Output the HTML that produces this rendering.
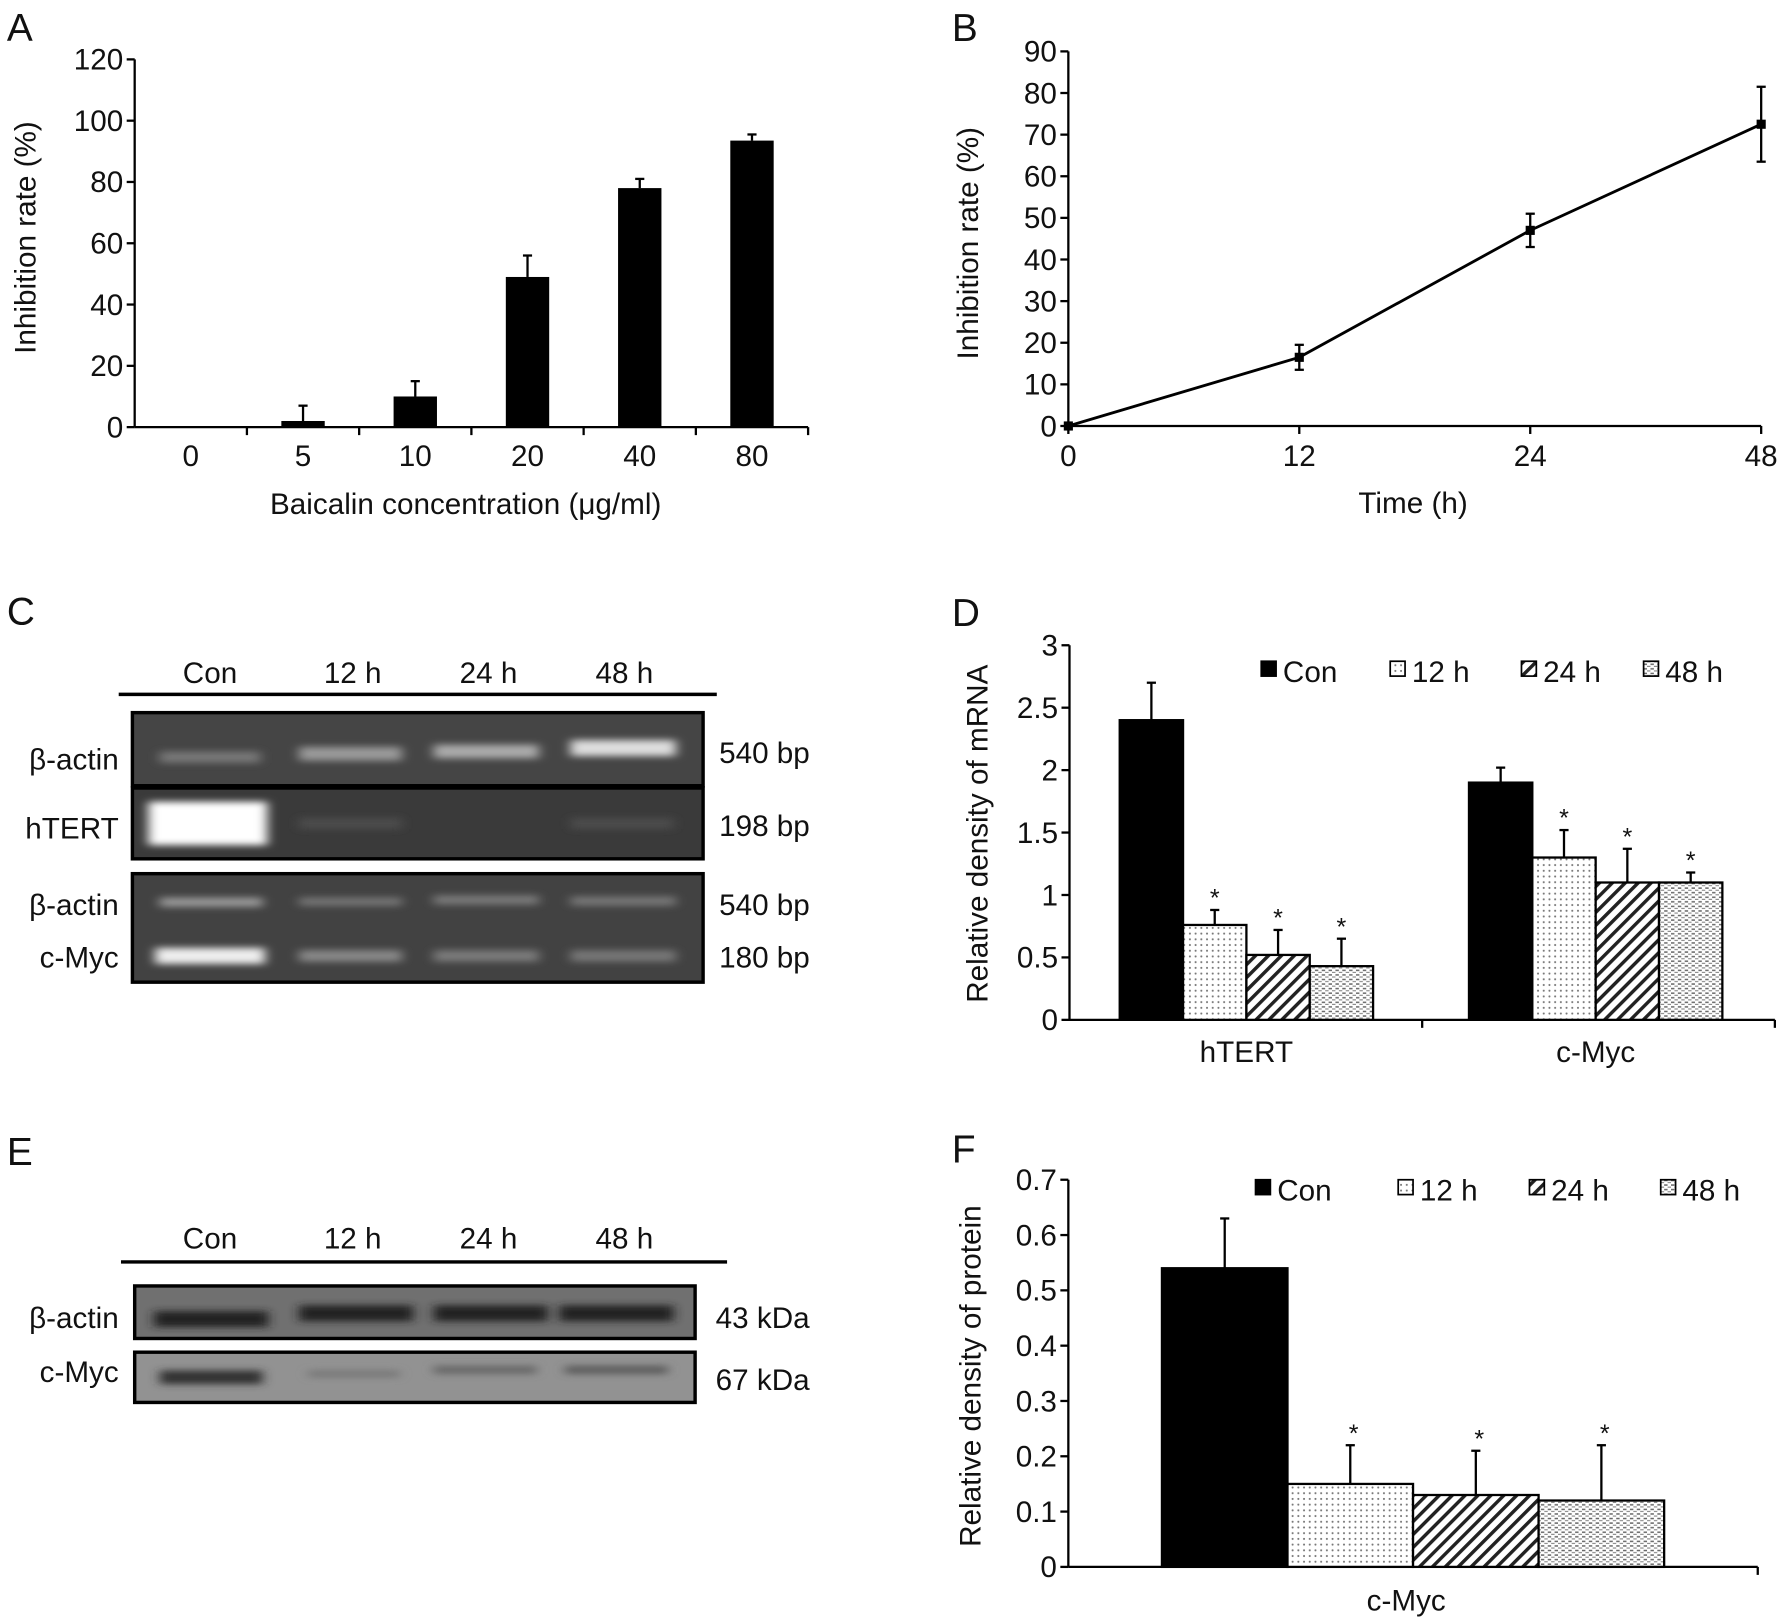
<!DOCTYPE html>
<html><head><meta charset="utf-8"><style>
html,body{margin:0;padding:0;background:#fff}
svg{display:block}
text{font-family:"Liberation Sans",sans-serif;fill:#111}
</style></head><body>
<svg id="fig" width="1784" height="1624" viewBox="0 0 1563 1422" preserveAspectRatio="none" xmlns="http://www.w3.org/2000/svg">
<defs>
<pattern id="p12" width="5" height="5" patternUnits="userSpaceOnUse"><rect width="5" height="5" fill="#fff"/><circle cx="2.5" cy="2.5" r="0.9" fill="#777"/></pattern>
<pattern id="p24" width="8" height="8" patternUnits="userSpaceOnUse" patternTransform="rotate(45)"><rect width="8" height="8" fill="#fff"/><rect width="3" height="8" fill="#222"/></pattern>
<pattern id="p48" width="6" height="4" patternUnits="userSpaceOnUse"><rect width="6" height="4" fill="#fff"/><rect x="0" y="1" width="3" height="1.3" fill="#666"/><rect x="3" y="3" width="3" height="1" fill="#888"/></pattern>
<filter id="blur" x="-20%" y="-100%" width="140%" height="300%"><feGaussianBlur stdDeviation="5 3"/></filter>
</defs>
<g id="root"></g>
<!-- Gel panel C -->
<g>
<text x="6" y="547" font-size="34">C</text>
<text x="184" y="598" font-size="26" text-anchor="middle">Con</text>
<text x="309" y="598" font-size="26" text-anchor="middle">12 h</text>
<text x="428" y="598" font-size="26" text-anchor="middle">24 h</text>
<text x="547" y="598" font-size="26" text-anchor="middle">48 h</text>
<line x1="104" y1="608" x2="628" y2="608" stroke="#000" stroke-width="3"/>
<rect x="116" y="624" width="500" height="64" fill="#454545" stroke="#000" stroke-width="3"/>
<rect x="116" y="690" width="500" height="62" fill="#3a3a3a" stroke="#000" stroke-width="3"/>
<rect x="116" y="765" width="500" height="95" fill="#424242" stroke="#000" stroke-width="3"/>
<g filter="url(#blur)">
<rect x="140" y="658" width="88" height="10" fill="#777"/><rect x="262" y="654" width="90" height="12" fill="#999"/><rect x="380" y="652" width="92" height="12" fill="#aaa"/><rect x="500" y="648" width="92" height="14" fill="#ddd"/>
<rect x="130" y="702" width="104" height="38" fill="#fff"/><rect x="262" y="716" width="90" height="10" fill="#4c4c4c"/><rect x="500" y="716" width="90" height="10" fill="#4c4c4c"/>
<rect x="140" y="786" width="90" height="8" fill="#999"/><rect x="262" y="786" width="90" height="7" fill="#777"/><rect x="380" y="784" width="92" height="8" fill="#7a7a7a"/><rect x="500" y="785" width="92" height="8" fill="#777"/>
<rect x="136" y="830" width="96" height="14" fill="#eee"/><rect x="262" y="832" width="90" height="10" fill="#888"/><rect x="380" y="832" width="92" height="10" fill="#7a7a7a"/><rect x="500" y="832" width="92" height="10" fill="#777"/>
</g>
<text x="104" y="674" font-size="26" text-anchor="end">β-actin</text>
<text x="104" y="734" font-size="26" text-anchor="end">hTERT</text>
<text x="104" y="801" font-size="26" text-anchor="end">β-actin</text>
<text x="104" y="847" font-size="26" text-anchor="end">c-Myc</text>
<text x="630" y="668" font-size="26">540 bp</text>
<text x="630" y="732" font-size="26">198 bp</text>
<text x="630" y="801" font-size="26">540 bp</text>
<text x="630" y="847" font-size="26">180 bp</text>
</g>
<!-- Blot panel E -->
<g>
<text x="6" y="1020" font-size="34">E</text>
<text x="184" y="1093" font-size="26" text-anchor="middle">Con</text>
<text x="309" y="1093" font-size="26" text-anchor="middle">12 h</text>
<text x="428" y="1093" font-size="26" text-anchor="middle">24 h</text>
<text x="547" y="1093" font-size="26" text-anchor="middle">48 h</text>
<line x1="106" y1="1105" x2="637" y2="1105" stroke="#000" stroke-width="3"/>
<rect x="118" y="1126" width="491" height="46" fill="#707070" stroke="#000" stroke-width="3"/>
<rect x="118" y="1184" width="491" height="44" fill="#929292" stroke="#000" stroke-width="3"/>
<g filter="url(#blur)">
<rect x="135" y="1148" width="100" height="14" fill="#222"/><rect x="262" y="1143" width="100" height="14" fill="#222"/><rect x="380" y="1143" width="100" height="14" fill="#222"/><rect x="490" y="1143" width="100" height="14" fill="#222"/>
<rect x="140" y="1200" width="90" height="12" fill="#333"/><rect x="270" y="1200" width="80" height="6" fill="#777"/><rect x="380" y="1196" width="90" height="7" fill="#666"/><rect x="495" y="1196" width="90" height="7" fill="#5a5a5a"/>
</g>
<text x="104" y="1163" font-size="26" text-anchor="end">β-actin</text>
<text x="104" y="1210" font-size="26" text-anchor="end">c-Myc</text>
<text x="627" y="1163" font-size="26">43 kDa</text>
<text x="627" y="1217" font-size="26">67 kDa</text>
</g>
</svg>
<script>
// Panel A data
const aCategories = ["0","5","10","20","40","80"];
const aValues = [0, 2, 10, 49, 78, 93.5];
const aErrors = [0, 5, 5, 7, 3, 2];
const aTicks = [0,20,40,60,80,100,120];
// Panel B data
const bTimes = ["0","12","24","48"];
const bValues = [0, 16.5, 47, 72.5];
const bErrors = [0, 3, 4, 9];
const bTicks = [0,10,20,30,40,50,60,70,80,90];
// Panel D data
const dGroups = ["hTERT","c-Myc"];
const dSeries = ["Con","12 h","24 h","48 h"];
const dHtert = [2.4, 0.76, 0.52, 0.43];
const dHtertErr = [0.3, 0.12, 0.2, 0.22];
const dCmyc = [1.9, 1.3, 1.1, 1.1];
const dCmycErr = [0.12, 0.22, 0.27, 0.08];
const dSig = [false, true, true, true];
const dTicks = ["0","0.5","1","1.5","2","2.5","3"];
// Panel F data
const fValues = [0.54, 0.15, 0.13, 0.12];
const fErrors = [0.09, 0.07, 0.08, 0.1];
const fSig = [false, true, true, true];
const fTicks = ["0","0.1","0.2","0.3","0.4","0.5","0.6","0.7"];

const NS="http://www.w3.org/2000/svg";
const root=document.getElementById('root');
function mk(tag,attrs,parent,txt){const e=document.createElementNS(NS,tag);for(const k in attrs)e.setAttribute(k,attrs[k]);if(txt!==undefined)e.textContent=txt;(parent||root).appendChild(e);return e;}
const fills=["#000","url(#p12)","url(#p24)","url(#p48)"];

function axisY(g,x,y0,y1,ticks,max,fs){
  mk('line',{x1:x,y1:y0,x2:x,y2:y1,stroke:'#000','stroke-width':2},g);
  ticks.forEach(t=>{const v=parseFloat(t);const y=y0-(y0-y1)*v/max;
    mk('line',{x1:x-7,y1:y,x2:x,y2:y,stroke:'#000','stroke-width':2},g);
    const tx=mk('text',{x:x-10,y:y+9,'font-size':fs,'text-anchor':'end'},g,String(t));
    
    });
}
function errBar(g,x,y,yTop){mk('line',{x1:x,y1:y,x2:x,y2:yTop,stroke:'#000','stroke-width':2},g);mk('line',{x1:x-4,y1:yTop,x2:x+4,y2:yTop,stroke:'#000','stroke-width':2},g);}
function legend(g,xs,y){dSeries.forEach((s,i)=>{const r=mk('rect',{x:xs[i],y:y-9,width:13,height:13,fill:fills[i],stroke:'#000','stroke-width':1.5},g);
  
  
  const t=mk('text',{x:xs[i]+19,y:y+9,'font-size':26},g,s);
  
  });}

// ---- Panel A
(function(){
  const g=mk('g',{});
  mk('text',{x:6,y:36,'font-size':34},g,'A');
  const X0=118,X1=708,Y0=374,Y1=52,max=120;
  axisY(g,X0,Y0,Y1,aTicks,max,26);
  mk('line',{x1:X0,y1:Y0,x2:X1,y2:Y0,stroke:'#000','stroke-width':2},g);
  const step=(X1-X0)/aCategories.length;
  const ys=v=>Y0-(Y0-Y1)*v/max;
  aCategories.forEach((c,i)=>{const cx=X0+step*(i+0.5);
    mk('line',{x1:X0+step*(i+1),y1:Y0,x2:X0+step*(i+1),y2:Y0+7,stroke:'#000','stroke-width':2},g);
    if(aErrors[i]>0) errBar(g,cx,ys(aValues[i]),ys(aValues[i]+aErrors[i]));
    const b=mk('rect',{x:cx-19,y:ys(aValues[i]),width:38,height:Y0-ys(aValues[i]),fill:'#000'},g);
    
    
    mk('text',{x:cx,y:408,'font-size':26,'text-anchor':'middle'},g,c);});
  mk('text',{x:408,y:450,'font-size':26,'text-anchor':'middle'},g,'Baicalin concentration (μg/ml)');
  mk('text',{x:0,y:0,'font-size':26,'text-anchor':'middle',transform:'translate(31,208) rotate(-90)'},g,'Inhibition rate (%)');
})();

// ---- Panel B
(function(){
  const g=mk('g',{});
  mk('text',{x:834,y:36,'font-size':34},g,'B');
  const X0=936,X1=1543,Y0=373,Y1=45,max=90;
  axisY(g,X0,Y0,Y1,bTicks,max,26);
  mk('line',{x1:X0,y1:Y0,x2:X1,y2:Y0,stroke:'#000','stroke-width':2},g);
  const xs=i=>X0+(X1-X0)*i/(bTimes.length-1);
  const ys=v=>Y0-(Y0-Y1)*v/max;
  let d='';
  bTimes.forEach((t,i)=>{mk('line',{x1:xs(i),y1:Y0,x2:xs(i),y2:Y0+7,stroke:'#000','stroke-width':2},g);
    mk('text',{x:xs(i),y:408,'font-size':26,'text-anchor':'middle'},g,t);
    d+=(i?'L':'M')+xs(i)+','+ys(bValues[i]);});
  const p=mk('path',{d:d,fill:'none',stroke:'#000','stroke-width':2.5},g);
  
  
  bTimes.forEach((t,i)=>{if(bErrors[i]>0){const x=xs(i);
    mk('line',{x1:x,y1:ys(bValues[i]-bErrors[i]),x2:x,y2:ys(bValues[i]+bErrors[i]),stroke:'#000','stroke-width':2},g);
    mk('line',{x1:x-4,y1:ys(bValues[i]-bErrors[i]),x2:x+4,y2:ys(bValues[i]-bErrors[i]),stroke:'#000','stroke-width':2},g);
    mk('line',{x1:x-4,y1:ys(bValues[i]+bErrors[i]),x2:x+4,y2:ys(bValues[i]+bErrors[i]),stroke:'#000','stroke-width':2},g);}
    const m=mk('rect',{x:xs(i)-4,y:ys(bValues[i])-4,width:8,height:8,fill:'#000'},g);
    
    });
  mk('text',{x:1238,y:449,'font-size':26,'text-anchor':'middle'},g,'Time (h)');
  mk('text',{x:0,y:0,'font-size':26,'text-anchor':'middle',transform:'translate(857,213) rotate(-90)'},g,'Inhibition rate (%)');
})();

// ---- Panel D
(function(){
  const g=mk('g',{});
  mk('text',{x:834,y:548,'font-size':34},g,'D');
  const X0=937,X1=1555,Y0=893,Y1=565,max=3;
  axisY(g,X0,Y0,Y1,dTicks,max,26);
  mk('line',{x1:X0,y1:Y0,x2:X1,y2:Y0,stroke:'#000','stroke-width':2},g);
  const ys=v=>Y0-(Y0-Y1)*v/max;
  const gw=(X1-X0)/dGroups.length, bw=55.5;
  [dHtert,dCmyc].forEach((vals,gi)=>{const errs=gi?dCmycErr:dHtertErr;
    mk('line',{x1:X0+gw*(gi+1),y1:Y0,x2:X0+gw*(gi+1),y2:Y0+7,stroke:'#000','stroke-width':2},g);
    const start=(gi?1287:981);
    vals.forEach((v,i)=>{const x=start+bw*i;
      errBar(g,x+bw/2,ys(v),ys(v+errs[i]));
      const b=mk('rect',{x:x,y:ys(v),width:bw,height:Y0-ys(v),fill:fills[i],stroke:'#000','stroke-width':2},g);
      
      
      if(dSig[i]) mk('text',{x:x+bw/2,y:ys(v+errs[i])-3,'font-size':22,'text-anchor':'middle'},g,'*');});
    mk('text',{x:start+bw*2,y:930,'font-size':26,'text-anchor':'middle'},g,dGroups[gi]);});
  legend(g,[1105,1218,1333,1440],588);
  mk('text',{x:0,y:0,'font-size':26,'text-anchor':'middle',transform:'translate(865,730) rotate(-90)'},g,'Relative density of mRNA');
})();

// ---- Panel F
(function(){
  const g=mk('g',{});
  mk('text',{x:834,y:1018,'font-size':34},g,'F');
  const X0=936,X1=1540,Y0=1372,Y1=1033,max=0.7;
  axisY(g,X0,Y0,Y1,fTicks,max,26);
  mk('line',{x1:X0,y1:Y0,x2:X1,y2:Y0,stroke:'#000','stroke-width':2},g);
  mk('line',{x1:X1,y1:Y0,x2:X1,y2:Y0+7,stroke:'#000','stroke-width':2},g);
  const ys=v=>Y0-(Y0-Y1)*v/max;
  const bw=110, start=1018;
  fValues.forEach((v,i)=>{const x=start+bw*i;
    errBar(g,x+bw/2,ys(v),ys(v+fErrors[i]));
    const b=mk('rect',{x:x,y:ys(v),width:bw,height:Y0-ys(v),fill:fills[i],stroke:'#000','stroke-width':2},g);
    
    
    if(fSig[i]) mk('text',{x:x+bw/2+3,y:ys(v+fErrors[i])-3,'font-size':22,'text-anchor':'middle'},g,'*');});
  mk('text',{x:1232,y:1410,'font-size':26,'text-anchor':'middle'},g,'c-Myc');
  legend(g,[1100,1225,1340,1455],1042);
  mk('text',{x:0,y:0,'font-size':26,'text-anchor':'middle',transform:'translate(859,1205) rotate(-90)'},g,'Relative density of protein');
})();
</script>
</body></html>
